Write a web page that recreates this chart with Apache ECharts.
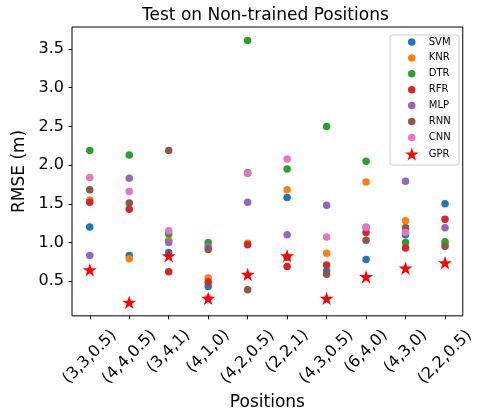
<!DOCTYPE html>
<html><head><meta charset="utf-8">
<script src="https://cdn.jsdelivr.net/npm/echarts@6/dist/echarts.min.js"></script>
<style>html,body{margin:0;padding:0;background:#fff}#c{width:477px;height:416px}</style>
</head><body><div id="c"></div>
<script>
// ---- data ----
const positions = ['(3,3,0.5)','(4,4,0.5)','(3,4,1)','(4,1,0)','(4,2,0.5)','(2,2,1)','(4,3,0.5)','(6,4,0)','(4,3,0)','(2,2,0.5)'];
const methodNames = ['SVM','KNR','DTR','RFR','MLP','RNN','CNN','GPR'];
const SVM = [1.20, 0.83, 0.87, 0.43, 1.90, 1.58, 0.63, 0.78, 1.10, 1.50];
const KNR = [1.55, 0.79, 1.03, 0.54, 0.99, 1.68, 0.86, 1.78, 1.28, 0.98];
const DTR = [2.19, 2.13, 1.11, 1.00, 3.61, 1.95, 2.50, 2.05, 1.00, 1.01];
const RFR = [1.52, 1.43, 0.62, 0.49, 0.97, 0.69, 0.71, 1.13, 0.93, 1.30];
const MLP = [0.83, 1.83, 1.00, 0.95, 1.52, 1.10, 1.48, 1.19, 1.79, 1.19];
const RNN = [1.68, 1.51, 2.19, 0.91, 0.39, 0.81, 0.59, 1.03, 1.19, 0.95];
const CNN = [1.84, 1.66, 1.15, 0.28, 1.89, 2.08, 1.07, 1.20, 1.13, 2.62];
const GPR = [0.64, 0.22, 0.82, 0.27, 0.58, 0.82, 0.27, 0.55, 0.66, 0.73];
const yTicks = [0.5, 1.0, 1.5, 2.0, 2.5, 3.0, 3.5];

// ---- styling ----
const valuesByName = {SVM, KNR, DTR, RFR, MLP, RNN, CNN, GPR};
const colors = {SVM:'#1f77b4', KNR:'#ff7f0e', DTR:'#2ca02c', RFR:'#d62728', MLP:'#9467bd', RNN:'#8c564b', CNN:'#e377c2', GPR:'#ff0000'};
const FONT = 'DejaVu Sans';

function starPath(){
  let d = '';
  for (let k = 0; k < 10; k++) {
    const r = k % 2 === 0 ? 1 : 0.381966;
    const a = -Math.PI/2 + k*Math.PI/5;
    d += (k === 0 ? 'M' : 'L') + (r*Math.cos(a)).toFixed(4) + ' ' + (r*Math.sin(a)).toFixed(4) + ' ';
  }
  return 'path://' + d + 'Z';
}
const STAR = starPath();

const idx = positions.map((p, i) => i);
const longIdx = idx.filter(i => positions[i].length > 7);
const shortIdx = idx.filter(i => positions[i].length <= 7);

const series = methodNames.map(name => {
  const isStar = name === 'GPR';
  return {
    name, type: 'scatter', xAxisIndex: 0,
    data: valuesByName[name].map((v, i) => [i, v]),
    symbol: isStar ? STAR : 'circle',
    symbolSize: isStar ? [14, 13.4] : 7.5,
    symbolOffset: isStar ? [0, -0.6] : [0, 0],
    itemStyle: {color: colors[name], opacity: 1},
    emphasis: {disabled: true},
    silent: true
  };
});

const labelCommon = {
  rotate: 45, align: 'center', verticalAlign: 'middle',
  fontFamily: FONT, fontSize: 16, color: '#000',
  formatter: v => positions[Math.round(v)]
};

const option = {
  animation: false,
  backgroundColor: '#fff',
  title: {
    text: 'Test on Non-trained Positions', left: 142, top: 7, padding: 0,
    textStyle: {fontFamily: FONT, fontSize: 17, fontWeight: 'normal', color: '#000'}
  },
  grid: {left: 72, top: 27, width: 391, height: 291, show: true, borderColor: '#000', borderWidth: 1, backgroundColor: 'transparent'},
  xAxis: [{
    type: 'value', min: -0.45, max: 9.45, position: 'bottom',
    axisLine: {show: false, onZero: false},
    splitLine: {show: false},
    axisTick: {show: true, inside: false, length: 3.5, customValues: idx, lineStyle: {color: '#000', width: 1}},
    axisLabel: Object.assign({customValues: longIdx, margin: 41.3}, labelCommon),
    name: 'Positions', nameLocation: 'middle', nameGap: 76,
    nameTextStyle: {fontFamily: FONT, fontSize: 17, color: '#000'}
  }, {
    type: 'value', min: -0.45, max: 9.45, position: 'bottom',
    axisLine: {show: false, onZero: false},
    splitLine: {show: false},
    axisTick: {show: false},
    axisLabel: Object.assign({customValues: shortIdx, margin: 35.6}, labelCommon)
  }],
  yAxis: {
    type: 'value', min: 0.052, max: 3.785,
    axisLine: {show: false, onZero: false},
    splitLine: {show: false},
    axisTick: {show: true, inside: false, length: 3.5, customValues: yTicks, lineStyle: {color: '#000', width: 1}},
    axisLabel: {customValues: yTicks, margin: 8, fontFamily: FONT, fontSize: 16, color: '#000', formatter: v => v.toFixed(1)},
    name: 'RMSE (m)', nameLocation: 'middle', nameGap: 34,
    nameTextStyle: {fontFamily: FONT, fontSize: 17, color: '#000'}
  },
  legend: [{
    data: methodNames.filter(n => n !== 'GPR'),
    orient: 'vertical', left: 408, top: 36, padding: 0,
    itemWidth: 24, itemHeight: 7.5, itemGap: 3.9, selectedMode: false, z: 10,
    textStyle: {fontFamily: FONT, fontSize: 10, lineHeight: 12, color: '#000'}
  }, {
    data: ['GPR'],
    orient: 'vertical', left: 405, top: 147.5, padding: 0,
    itemWidth: 24, itemHeight: 13, itemGap: 0, selectedMode: false, z: 10,
    textStyle: {fontFamily: FONT, fontSize: 10, lineHeight: 12, color: '#000'}
  }],
  graphic: [{
    type: 'rect', left: 389.5, top: 34.5, z: 8,
    shape: {width: 69, height: 130, r: 3},
    style: {fill: 'rgba(255,255,255,0.8)', stroke: '#cccccc', lineWidth: 1}
  }],
  series
};

const chart = echarts.init(document.getElementById('c'), null, {renderer: 'canvas'});
chart.setOption(option);
</script>
</body></html>
